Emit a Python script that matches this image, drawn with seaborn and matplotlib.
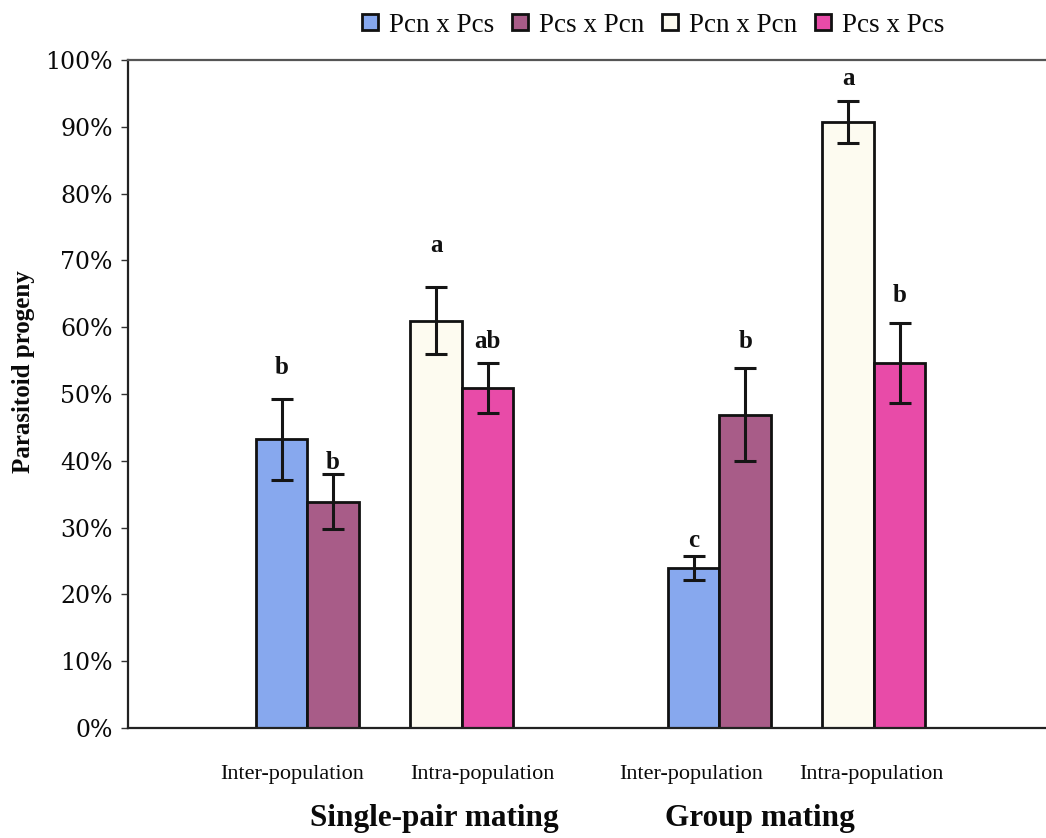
import numpy as np
import pandas as pd
import matplotlib
matplotlib.use("Agg")
import matplotlib.pyplot as plt
from matplotlib.ticker import PercentFormatter
from matplotlib.lines import Line2D
import seaborn as sns

# ---- data -------------------------------------------------------------
crosses = ["Pcn x Pcs", "Pcs x Pcn", "Pcn x Pcn", "Pcs x Pcs"]
populations = ["Inter-population", "Inter-population",
               "Intra-population", "Intra-population"]
matings = ["Single-pair mating", "Group mating"]

single_mean = [43.2, 33.9, 61.0, 50.9]
single_err = [6.0, 4.1, 5.0, 3.8]
single_letters = ["b", "b", "a", "ab"]

group_mean = [23.9, 46.9, 90.7, 54.6]
group_err = [1.8, 7.0, 3.1, 6.0]
group_letters = ["c", "b", "a", "b"]

colors = ["#87A8EE", "#A85C88", "#FDFBF0", "#E84BA8"]

# ---- layout -----------------------------------------------------------
slots = [0, 1, 3, 4]          # bar slot within a mating block (gap between pairs)
block_step = 8                # distance between the two mating blocks
letter_y = [[54.0, 39.7, 72.2, 57.8], [28.1, 57.9, 97.3, 64.8]]
pop_label_x = [0.2, 3.9, 7.95, 11.45]
mating_label_x = [2.96, 9.29]

rows = []
for m, (means, errs, letters) in enumerate(
        [(single_mean, single_err, single_letters),
         (group_mean, group_err, group_letters)]):
    for i in range(4):
        rows.append(dict(mating=matings[m], population=populations[i],
                         cross=crosses[i], value=means[i], err=errs[i],
                         letter=letters[i], letter_y=letter_y[m][i],
                         pos=m * block_step + slots[i]))
df = pd.DataFrame(rows)

sns.set_theme(style="white")
plt.rcParams["font.family"] = ["Liberation Serif", "DejaVu Serif"]

fig = plt.figure(figsize=(10.46, 8.38), dpi=100)
ax = fig.add_axes([128 / 1046, 110 / 838, (1046 - 128) / 1046, 668 / 838])

sns.barplot(data=df, x="pos", y="value", hue="cross", hue_order=crosses,
            palette=colors, native_scale=True, dodge=False, width=1.0,
            edgecolor="#111111", linewidth=2.0, errorbar=None, legend=False,
            saturation=1, ax=ax)

ax.errorbar(df["pos"], df["value"], yerr=df["err"], fmt="none",
            ecolor="#151515", elinewidth=2.2, capsize=8, capthick=2.2,
            zorder=5)

for _, r in df.iterrows():
    ax.text(r["pos"], r["letter_y"], r["letter"], ha="center", va="center",
            fontsize=18, fontweight="bold", color="#111111")

ax.set_xlim(-2.98, 14.84)
ax.set_ylim(0, 100)
ax.set_yticks(np.arange(0, 101, 10))
ax.yaxis.set_major_formatter(PercentFormatter(decimals=0))
ax.tick_params(axis="y", which="major", left=True, length=5, width=1,
               color="#333333", pad=6, labelsize=17)
for lab in ax.get_yticklabels():
    lab.set_fontfamily("DejaVu Serif")
    lab.set_color("#0a0a0a")
ax.set_xticks([])
ax.set_xlabel("")
ax.set_ylabel("Parasitoid progeny", fontsize=18, fontweight="bold",
              color="#0a0a0a")
ax.yaxis.set_label_coords(-0.101, 0.533)

for side in ["left", "top", "bottom"]:
    ax.spines[side].set_visible(True)
    ax.spines[side].set_color("#222222")
    ax.spines[side].set_linewidth(1.6)
ax.spines["top"].set_color("#555555")
ax.spines["right"].set_visible(False)

xt = ax.get_xaxis_transform()
pop_names = ["Inter-population", "Intra-population",
             "Inter-population", "Intra-population"]
for x, name in zip(pop_label_x, pop_names):
    ax.text(x, -0.070, name, transform=xt, ha="center", va="center",
            fontsize=16, color="#0a0a0a", clip_on=False)
for x, name in zip(mating_label_x, matings):
    ax.text(x, -0.135, name, transform=xt, ha="center", va="center",
            fontsize=22.5, fontweight="bold", color="#0a0a0a", clip_on=False)

handles = [Line2D([], [], marker="s", linestyle="none", markersize=12,
                  markerfacecolor=c, markeredgecolor="#111111",
                  markeredgewidth=2.0) for c in colors]
fig.legend(handles, crosses, loc="center", bbox_to_anchor=(652 / 1046, 1 - 25 / 838),
           ncol=4, frameon=False, fontsize=19.5, handlelength=0.8,
           handletextpad=0.3, columnspacing=0.55, borderaxespad=0,
           labelcolor="#0a0a0a")

fig.savefig("out.png", dpi=100, facecolor="white")
